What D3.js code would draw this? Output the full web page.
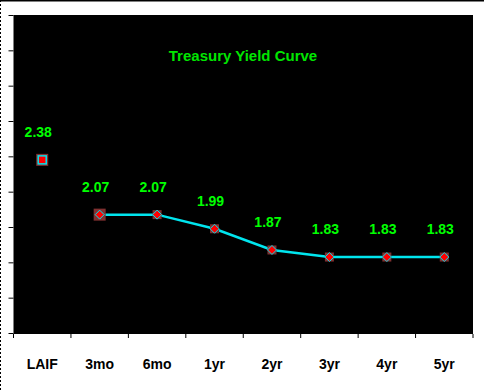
<!DOCTYPE html>
<html><head><meta charset="utf-8">
<script src="https://cdn.jsdelivr.net/npm/d3@7"></script>
<style>body{margin:0;background:#fff;}svg{display:block;}</style>
</head><body>
<script>
const categories = ["LAIF","3mo","6mo","1yr","2yr","3yr","4yr","5yr"];
const yields = [2.38,2.07,2.07,1.99,1.87,1.83,1.83,1.83];
const labels = ["2.38","2.07","2.07","1.99","1.87","1.83","1.83","1.83"];
const yTicks = [1.4,1.6,1.8,2.0,2.2,2.4,2.6,2.8,3.0,3.2];
const title = "Treasury Yield Curve";

const W=484,H=392;
const svg=d3.select("body").append("svg").attr("width",W).attr("height",H);
const L=13.5,R=473,T=15,B=334;
const FONT="Liberation Sans, Arial, sans-serif";
svg.append("line").attr("x1",0).attr("x2",W).attr("y1",0.5).attr("y2",0.5).attr("stroke","#000").attr("stroke-width",2);
svg.append("line").attr("x1",0.5).attr("x2",0.5).attr("y1",0).attr("y2",H).attr("stroke","#000").attr("stroke-dasharray","2,2");

svg.append("rect").attr("x",L).attr("y",T).attr("width",R-L).attr("height",B-T).attr("fill","#000");

const x=d3.scaleBand().domain(categories).range([L,R]);
const y=d3.scaleLinear().domain([1.4,3.2]).range([B-1,T]);

const yAxis=svg.append("g").attr("transform",`translate(${L},0)`)
  .call(d3.axisLeft(y).tickValues(yTicks).tickSize(5).tickFormat(""));
yAxis.select(".domain").remove();
yAxis.selectAll("line").attr("stroke","#000");

const xAxis=svg.append("g").attr("transform",`translate(0,${B})`)
  .call(d3.axisBottom(x).tickSize(0).tickFormat(d=>d));
xAxis.select(".domain").remove();
xAxis.selectAll("text").attr("dy",0).attr("y",35).attr("font-family",FONT)
  .attr("font-weight","bold").attr("font-size","14px").attr("fill","#000");
const bounds=categories.map(c=>x(c)).concat([x(categories[categories.length-1])+x.bandwidth()]);
svg.append("g").selectAll("line").data(bounds).join("line")
  .attr("x1",d=>d).attr("x2",d=>d).attr("y1",B).attr("y2",B+4).attr("stroke","#000");

svg.append("text").attr("x",243).attr("y",61).attr("text-anchor","middle")
  .attr("font-family",FONT).attr("font-weight","bold")
  .attr("font-size","15px").attr("fill","#00e600").text(title);

const cx=d=>x(d)+x.bandwidth()/2;
const pts=categories.map((c,i)=>({c,v:yields[i],l:labels[i],i}));

const line=d3.line().x(d=>cx(d.c)).y(d=>y(d.v));
svg.append("path").datum(pts.slice(1)).attr("d",line).attr("fill","none")
  .attr("stroke","#00e5ee").attr("stroke-width",2.5);

pts.forEach(p=>{
  const X=cx(p.c),Y=y(p.v);
  const g=svg.append("g").attr("transform",`translate(${X},${Y})`);
  if(p.i===0){
    g.append("rect").attr("x",-6).attr("y",-6).attr("width",12).attr("height",12).attr("fill","#803030");
    g.append("rect").attr("x",-4).attr("y",-4).attr("width",8).attr("height",8).attr("fill","#ff0000").attr("stroke","#00e5ee").attr("stroke-width",1.5);
  } else {
    const s=p.i===1?6:4.5;
    g.append("rect").attr("x",-s).attr("y",-s).attr("width",2*s).attr("height",2*s).attr("fill","#803030");
    g.append("path").attr("d","M0,-4.5L4.5,0L0,4.5L-4.5,0Z").attr("fill","#ff0000").attr("stroke","#00e5ee").attr("stroke-width",1);
  }
});

svg.append("g").selectAll("text").data(pts).join("text")
  .attr("x",d=>cx(d.c)-4).attr("y",d=>y(d.v)-23).attr("text-anchor","middle")
  .attr("font-family",FONT).attr("font-weight","bold")
  .attr("font-size","14px").attr("fill","#00ff00").text(d=>d.l);
</script>
</body></html>
